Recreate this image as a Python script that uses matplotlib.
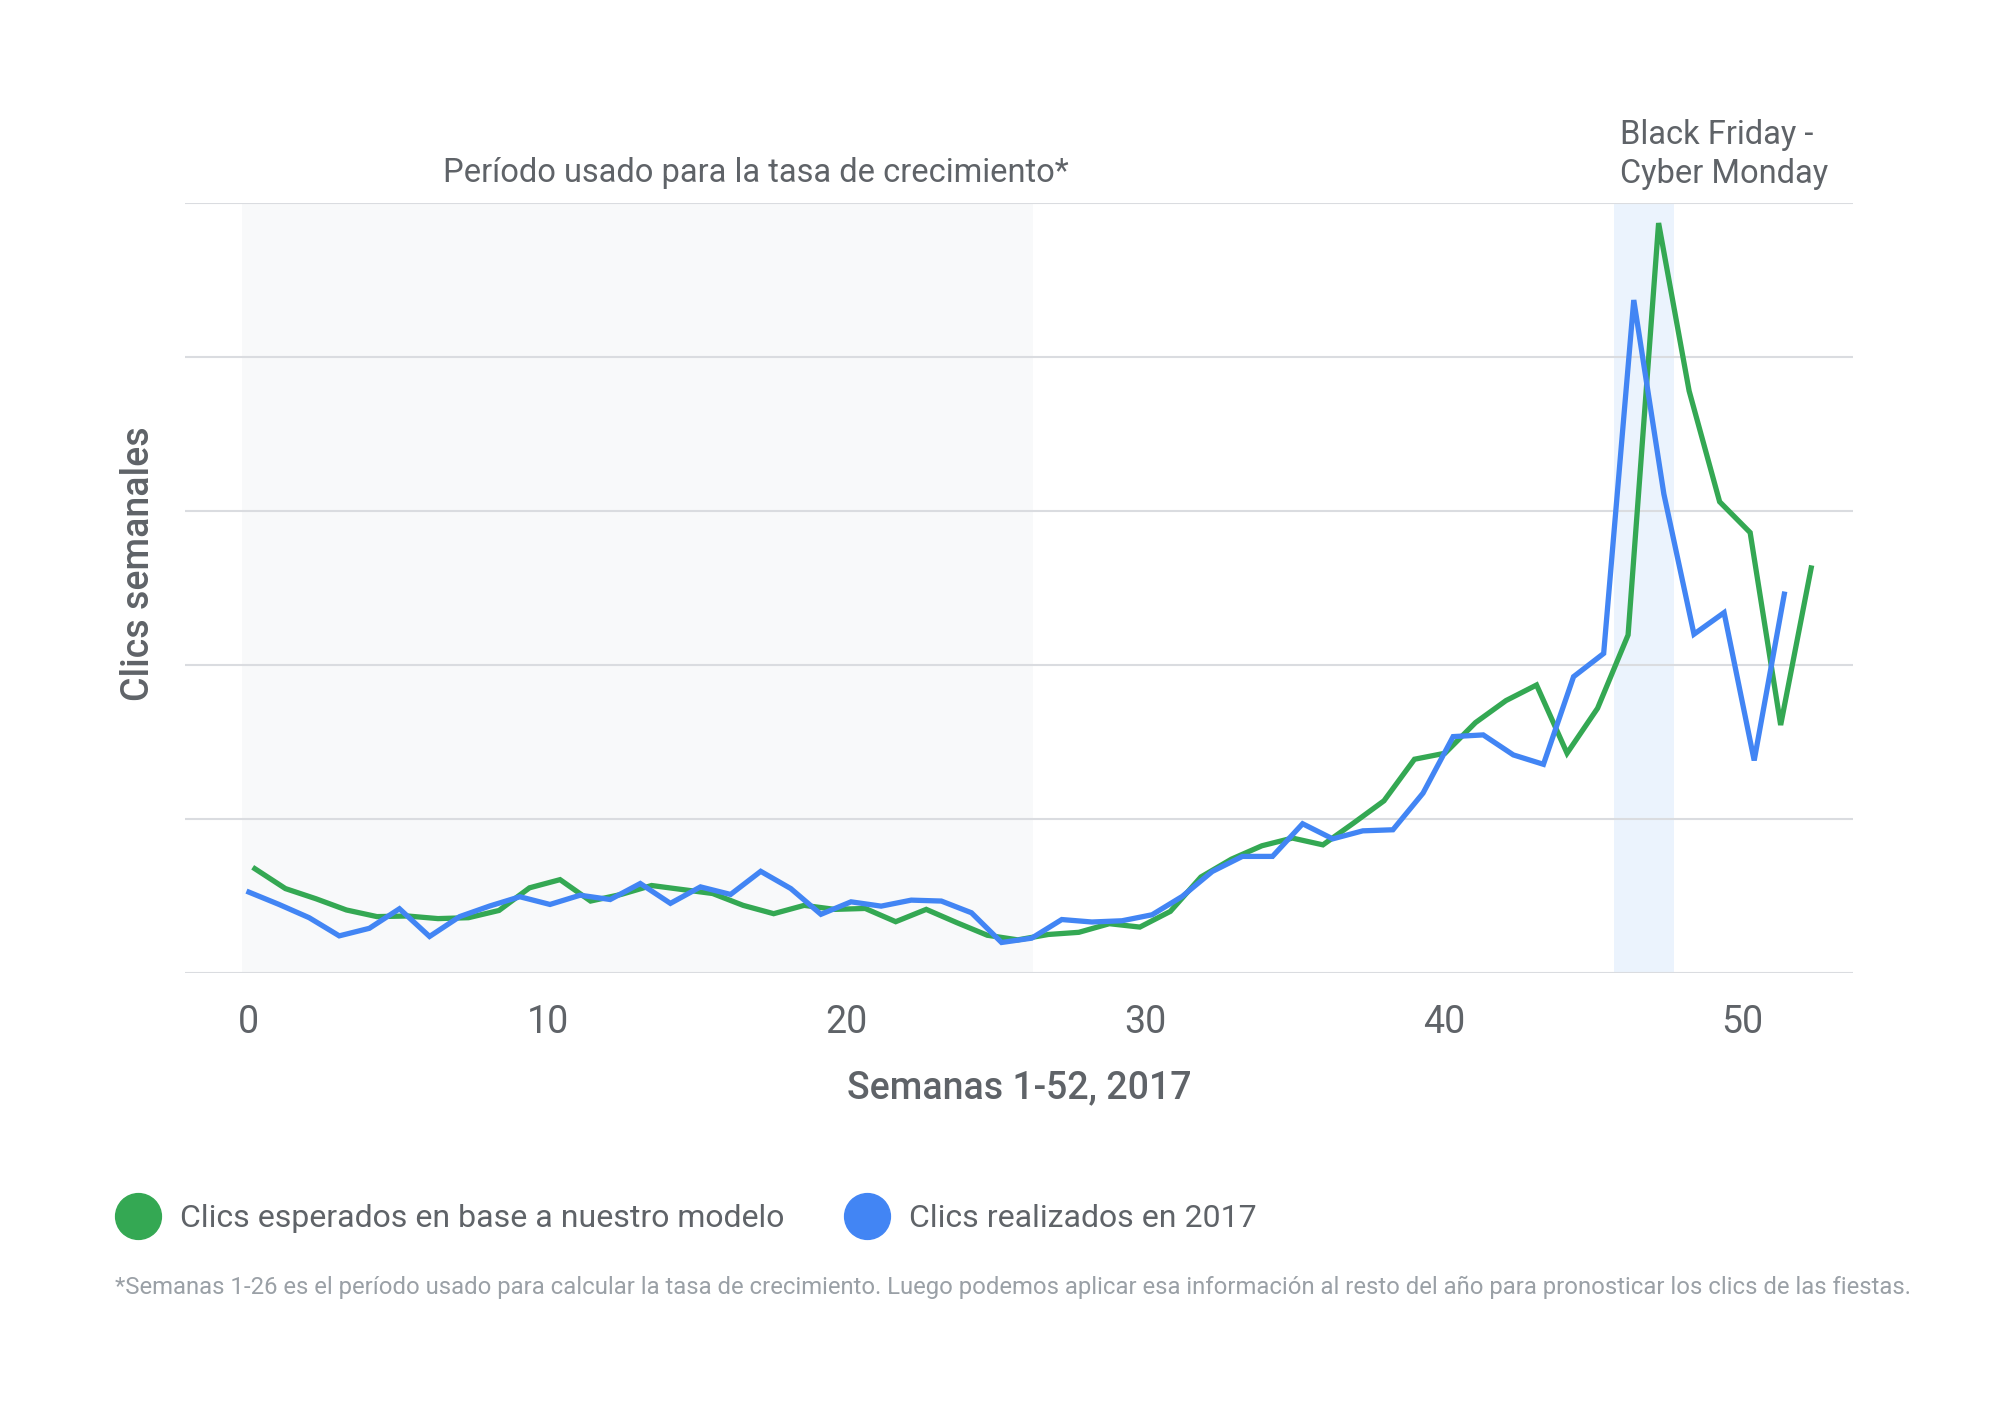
import numpy as np
import matplotlib.pyplot as plt
from matplotlib.lines import Line2D

plt.rcParams['font.family'] = ['Roboto', 'DejaVu Sans']

# semanas (posiciones en el eje x)
semanas_modelo = np.linspace(0.2, 52.3, 52)
semanas_2017 = np.linspace(0.0, 51.4, 52)

# clics semanales (unidades relativas a la cuadrícula)
clics_esperados = [0.677, 0.548, 0.482, 0.409, 0.366, 0.370, 0.353, 0.359, 0.406, 0.553,
                   0.606, 0.467, 0.510, 0.568, 0.542, 0.516, 0.439, 0.385, 0.439, 0.413,
                   0.419, 0.333, 0.413, 0.327, 0.245, 0.215, 0.250, 0.264, 0.320, 0.298,
                   0.400, 0.623, 0.739, 0.826, 0.876, 0.832, 0.973, 1.118, 1.388, 1.427,
                   1.626, 1.769, 1.870, 1.427, 1.719, 2.195, 4.870, 3.780, 3.060, 2.860,
                   1.610, 2.630]
clics_2017 = [0.525, 0.445, 0.359, 0.241, 0.290, 0.417, 0.237, 0.366, 0.435, 0.495,
              0.445, 0.505, 0.477, 0.581, 0.452, 0.559, 0.510, 0.660, 0.548, 0.381,
              0.462, 0.434, 0.473, 0.467, 0.391, 0.198, 0.226, 0.347, 0.331, 0.339,
              0.378, 0.497, 0.659, 0.757, 0.757, 0.969, 0.871, 0.923, 0.930, 1.168,
              1.535, 1.546, 1.416, 1.355, 1.924, 2.075, 4.370, 3.110, 2.200, 2.340,
              1.380, 2.460]

periodo_crecimiento = (-0.23, 26.26)
periodo_bf = (45.7, 47.7)
xticks = [0, 10, 20, 30, 40, 50]

verde = '#34a853'
azul = '#4285f4'
gris = '#5f6368'

fig = plt.figure(figsize=(20, 14.04), dpi=100)
ax = fig.add_axes([0.0925, 0.307, 0.834, 0.5484])

ax.axvspan(*periodo_crecimiento, color='#f8f9fa', zorder=0.1, lw=0)
ax.axvspan(*periodo_bf, color='#ebf3fd', zorder=0.1, lw=0)

ax.plot(semanas_modelo, clics_esperados, color=verde, lw=3.8, zorder=3,
        solid_joinstyle='miter', clip_on=False)
ax.plot(semanas_2017, clics_2017, color=azul, lw=3.8, zorder=3,
        solid_joinstyle='miter', clip_on=False)

ax.set_xlim(-2.14, 53.7)
ax.set_ylim(0, 5)
ax.set_yticks(range(6))
ax.set_yticklabels([])
ax.set_xticks(xticks)
ax.tick_params(axis='both', length=0)
ax.tick_params(axis='x', labelsize=27, labelcolor=gris, pad=22)
ax.set_axisbelow(True)
ax.yaxis.grid(True, color='#dadce0', lw=1.5)
for s in ax.spines.values():
    s.set_visible(False)

ax.set_xlabel('Semanas 1-52, 2017', fontsize=27, fontweight='medium', color=gris, labelpad=21)
ax.set_ylabel('Clics semanales', fontsize=27, fontweight='medium', color=gris)
ax.yaxis.set_label_coords(-0.017, 0.531)

fig.text(0.378, 0.877, 'Período usado para la tasa de crecimiento*', fontsize=23.5,
         color=gris, ha='center', va='center')
fig.text(0.81, 0.890, 'Black Friday -\nCyber Monday', fontsize=23.5, color=gris,
         ha='left', va='center', linespacing=1.3)

handles = [Line2D([], [], ls='', marker='o', ms=33, color=verde),
           Line2D([], [], ls='', marker='o', ms=33, color=azul)]
fig.legend(handles, ['Clics esperados en base a nuestro modelo', 'Clics realizados en 2017'],
           loc='center left', bbox_to_anchor=(0.045, 0.132), ncol=2, frameon=False,
           fontsize=23, labelcolor=gris, handlelength=1.2, handletextpad=0.72,
           columnspacing=1.98)

fig.text(0.0575, 0.083, '*Semanas 1-26 es el período usado para calcular la tasa de crecimiento. '
         'Luego podemos aplicar esa información al resto del año para pronosticar los clics de las fiestas.',
         fontsize=17.2, color='#9aa0a6', ha='left', va='center')

fig.savefig('out.png', dpi=100, facecolor='white')
